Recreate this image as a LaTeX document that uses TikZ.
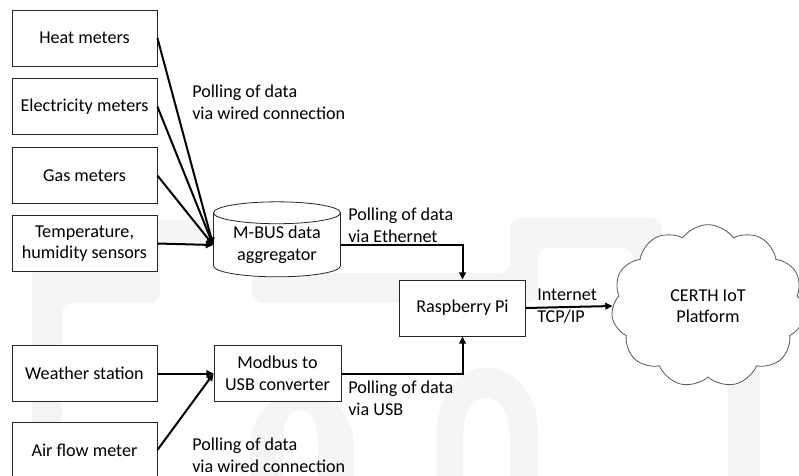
\documentclass[tikz,border=0pt]{standalone}
\usepackage{fontspec}
\setmainfont{Carlito}
\usetikzlibrary{shapes, arrows.meta, positioning, calc}
\tikzset{
  txt/.style = {font=\fontsize{13.6}{16.2}\selectfont},
  dev_n/.style = {txt, rectangle, align=center, inner sep=0pt, draw=black!85, line width=0.6pt, fill=white,
    minimum width=108.75pt, minimum height=42pt},
  agg_n/.style = {txt, cylinder, shape border rotate=90, aspect=0.25, align=center, inner sep=0pt,
    draw=black!85, line width=0.6pt, fill=white, minimum width=95.25pt, minimum height=56.25pt},
  hub_n/.style = {dev_n, minimum width=94pt},
  cloud_n/.style = {txt, cloud, cloud puffs=11, cloud puff arc=110, cloud ignores aspect, align=center, inner sep=0pt,
    draw=black!65, line width=0.6pt, fill=white, minimum width=145pt, minimum height=122pt},
  lbl_n/.style = {txt, anchor=west, align=left, inner sep=0pt},
  link/.style = {->, line width=1.5pt},
  wm/.style = {fill=black!4}
}

\begin{document}
\begin{tikzpicture}[x=0.75pt, y=-0.75pt, >={Triangle[length=5.5pt,width=5pt]}]
  \useasboundingbox (0,0) rectangle (799,475);
  % watermark in the background
  \fill[wm, rounded corners=8pt] (32,478) -- (32,220) -- (160,220) -- (160,303)
     -- (62,303) -- (62,478) -- cycle;
  \fill[wm] (32,300) -- (32,250) to[out=90,in=180] (62,220) -- (80,220) -- (80,300) -- cycle;
  \fill[wm] (150,220) rectangle (215,242);
  \fill[wm, rounded corners=8pt] (252,273) -- (510,273) -- (510,218)
     -- (662,218) -- (662,330) -- (633,330) -- (633,248)
     -- (538,248) -- (538,303) -- (252,303) -- cycle;
  \fill[wm] (728,330) rectangle (760,478);
  \fill[wm] (250,478) -- (250,445) to[out=90,in=180] (302,392) to[out=0,in=90] (354,445) -- (354,478)
     -- (318,478) -- (318,445) to[out=90,in=0] (300,410) to[out=180,in=90] (283,445) -- (283,478) -- cycle;
  \fill[wm] (437,478) -- (437,430) to[out=90,in=180] (487,368) to[out=0,in=90] (538,430) -- (538,478)
     -- (510,478) -- (510,440) to[out=90,in=0] (486,398) to[out=180,in=90] (463,440) -- (463,478) -- cycle;

  % meters and sensors
  \node[dev_n] (heat) at (84.5,38) {Heat meters};
  \node[dev_n] (elec) at (84.5,106.5) {Electricity meters};
  \node[dev_n] (gas) at (84.5,175.5) {Gas meters};
  \node[dev_n] (temp) at (84.5,243.5) {Temperature,\\humidity sensors};
  \node[dev_n] (weather) at (84.5,373.5) {Weather station};
  \node[dev_n] (airflow) at (84.5,450) {Air flow meter};

  % aggregators
  \node[agg_n] (mbus) at (277,245) {M-BUS data\\aggregator};
  \node[dev_n, minimum width=95.25pt] (modbus) at (277.5,373.5) {Modbus to\\USB converter};
  \node[hub_n] (rpi) at (462.5,308) {Raspberry Pi};
  \node[cloud_n] (certh) at (708,306) {CERTH IoT\\Platform};

  % links
  \foreach \src in {heat, elec, gas, temp}
    \draw[link] (\src.east) -- (mbus.west);
  \foreach \src in {weather, airflow}
    \draw[link] (\src.east) -- (modbus.west);
  \draw[link] (mbus.east) -| (rpi.north);
  \draw[link] (modbus.east) -| (rpi.south);
  \draw[link] (rpi.east) -- (certh.west);

  % labels
  \node[lbl_n] (lwired) at (192,102) {Polling of data\\via wired connection};
  \node[lbl_n] (leth) at (348,225) {Polling of data\\via Ethernet};
  \node[lbl_n] (lnet) at (537,306) {Internet\\TCP/IP};
  \node[lbl_n] (lusb) at (348,398) {Polling of data\\via USB};
  \node[lbl_n] (lwired2) at (192,455) {Polling of data\\via wired connection};
\end{tikzpicture}
\end{document}
